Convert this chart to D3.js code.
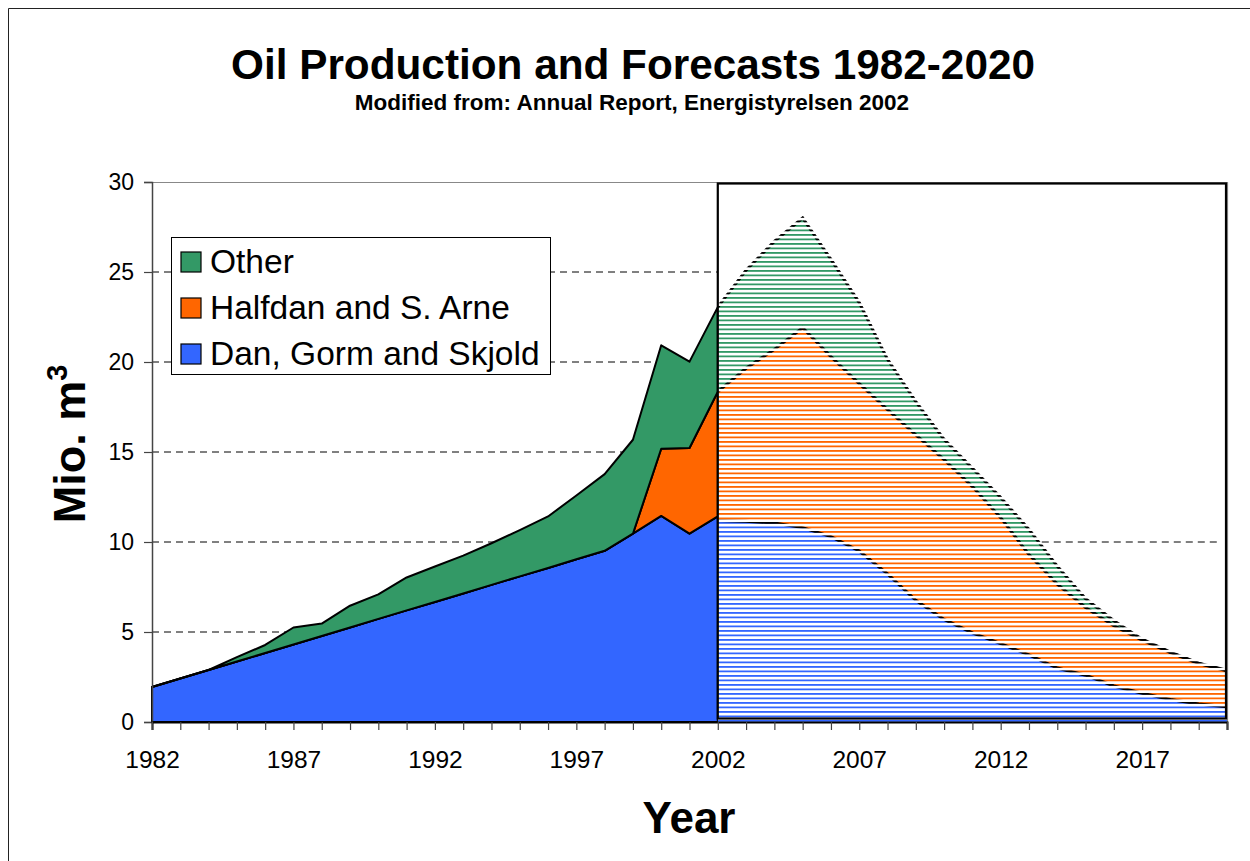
<!DOCTYPE html>
<html>
<head>
<meta charset="utf-8">
<script src="https://cdn.jsdelivr.net/npm/d3@7/dist/d3.min.js"></script>
<style>
  html, body { margin: 0; padding: 0; background: #fff; }
  svg { display: block; font-family: Arial, "Liberation Sans", sans-serif; }
</style>
</head>
<body>
<svg id="chart" width="1250" height="861"></svg>
<script>
// Recorded production 1982-2002 (million m3 per year)
const histYears   = [1982,1983,1984,1985,1986,1987,1988,1989,1990,1991,1992,1993,1994,1995,1996,1997,1998,1999,2000,2001,2002];
const histDan     = [1.94,2.42,2.89,3.36,3.83,4.31,4.78,5.25,5.73,6.20,6.67,7.14,7.62,8.09,8.56,9.04,9.51,10.46,11.45,10.46,11.42];
const histHalfdan = [0,0,0,0,0,0,0,0,0,0,0,0,0,0,0,0,0,0,3.73,4.76,6.93];
const histOther   = [0,0,0,0.24,0.45,0.94,0.69,1.21,1.36,1.83,1.97,2.10,2.31,2.57,2.86,3.54,4.26,5.22,5.75,4.80,4.70];

// Forecast 2002-2020 (million m3 per year)
const fcYears   = [2002,2003,2004,2005,2006,2007,2008,2009,2010,2011,2012,2013,2014,2015,2016,2017,2018,2019,2020];
const fcDan     = [11.20,11.15,11.05,10.80,10.30,9.50,8.23,6.76,5.70,4.95,4.35,3.73,3.00,2.60,2.00,1.60,1.25,1.00,0.85];
const fcHalfdan = [7.15,8.50,9.65,11.10,10.00,9.30,9.13,9.19,8.88,8.13,7.00,5.57,4.66,3.76,3.35,2.95,2.60,2.25,2.00];
const fcOther   = [4.70,5.45,6.00,6.10,5.40,4.50,2.79,1.85,1.12,1.02,1.12,1.40,1.00,0.49,0.28,0.05,0.03,0.02,0.02];

const seriesKeys   = ["dan", "halfdan", "other"];
const seriesLabels = ["Dan, Gorm and Skjold", "Halfdan and S. Arne", "Other"];
const seriesColors = ["#3366FF", "#FF6600", "#339966"];

const yTickValues = [0, 5, 10, 15, 20, 25, 30];
const xLabelYears = [1982, 1987, 1992, 1997, 2002, 2007, 2012, 2017];

const svg = d3.select("#chart");

// Outer chart border
svg.append("path")
  .attr("d", "M8.5,861 V8.5 H1250")
  .attr("fill", "none").attr("stroke", "#222").attr("stroke-width", 1);

const x = d3.scaleLinear().domain([1982, 2020]).range([152, 1227]);
const y = d3.scaleLinear().domain([0, 30]).range([722, 182]);

// Hatch patterns for the forecast
const defs = svg.append("defs");
const hatchStep = 4.5;
function hatch(id, color) {
  const p = defs.append("pattern")
    .attr("id", id)
    .attr("patternUnits", "userSpaceOnUse")
    .attr("width", 10).attr("height", hatchStep);
  p.append("rect")
    .attr("x", 0).attr("y", 0).attr("width", 10).attr("height", 1.7)
    .attr("fill", color)
    .attr("shape-rendering", "crispEdges");
}
seriesKeys.forEach((k, i) => hatch("hatch-" + k, seriesColors[i]));
hatch("hatch-black", "#000");

defs.append("clipPath").attr("id", "fc-clip")
  .append("rect")
  .attr("x", x(2002)).attr("y", y(30))
  .attr("width", x(2020) - x(2002)).attr("height", y(0) - y(30));

// Stacked tables built from the arrays
const histTable = histYears.map((yr, i) => ({ year: yr, dan: histDan[i], halfdan: histHalfdan[i], other: histOther[i] }));
const fcTable   = fcYears.map((yr, i)   => ({ year: yr, dan: fcDan[i],   halfdan: fcHalfdan[i],   other: fcOther[i] }));
const stack = d3.stack().keys(seriesKeys);
const histStack = stack(histTable);
const fcStack = stack(fcTable);

const area = d3.area()
  .x(d => x(d.data.year))
  .y0(d => y(d[0]))
  .y1(d => y(d[1]));
const topLine = d3.line()
  .x(d => x(d.data.year))
  .y(d => y(d[1]));

// Dashed gridlines
const grid = svg.append("g").attr("class", "grid");
yTickValues.filter(v => v > 0 && v < 30).forEach(v => {
  grid.append("line")
    .attr("x1", x(1982)).attr("x2", x(2002))
    .attr("y1", y(v)).attr("y2", y(v))
    .attr("stroke", "#000").attr("stroke-width", 1)
    .attr("stroke-dasharray", "7,5");
});
grid.append("line")
  .attr("x1", x(2002)).attr("x2", x(2020) - 6)
  .attr("y1", y(10)).attr("y2", y(10))
  .attr("stroke", "#000").attr("stroke-width", 1)
  .attr("stroke-dasharray", "7,5");

// Recorded production: solid stacked areas
svg.append("g").selectAll("path")
  .data(histStack)
  .join("path")
  .attr("d", area)
  .attr("fill", (d, i) => seriesColors[i])
  .attr("stroke", "#000")
  .attr("stroke-width", 2)
  .attr("stroke-linejoin", "round");

// Forecast: hatched stacked areas
const fc = svg.append("g").attr("clip-path", "url(#fc-clip)");
fc.append("path")
  .datum(fcStack[fcStack.length - 1])
  .attr("d", d3.area().x(d => x(d.data.year)).y0(y(0)).y1(d => y(d[1])))
  .attr("fill", "#fff");
fc.selectAll("path.fc-area")
  .data(fcStack)
  .join("path")
  .attr("class", "fc-area")
  .attr("d", area)
  .attr("fill", d => "url(#hatch-" + d.key + ")");
fc.selectAll("path.fc-edge")
  .data(fcStack)
  .join("path")
  .attr("class", "fc-edge")
  .attr("d", topLine)
  .attr("fill", "none")
  .attr("stroke", "url(#hatch-black)")
  .attr("stroke-width", 3);

// Plot area border (grey)
svg.append("path")
  .attr("d", `M${x(1982)},${y(30) + 0.5} H${x(2020) + 0.5} V${y(0)}`)
  .attr("fill", "none").attr("stroke", "#888").attr("stroke-width", 1.2);

// Forecast frame
svg.append("rect")
  .attr("x", x(2002)).attr("y", y(30) + 1.5)
  .attr("width", x(2020) - x(2002) - 1).attr("height", y(0) - y(30) - 5)
  .attr("fill", "none").attr("stroke", "#000").attr("stroke-width", 2.2);

// Y axis
const yAxis = svg.append("g")
  .attr("transform", `translate(${x(1982)},0)`)
  .call(d3.axisLeft(y).tickValues(yTickValues).tickSize(8).tickPadding(10).tickFormat(d3.format("d")));
yAxis.select(".domain").attr("stroke", "#444").attr("stroke-width", 1.5);
yAxis.selectAll(".tick line").attr("stroke", "#444").attr("stroke-width", 1.2);
yAxis.selectAll("text")
  .attr("font-size", 23).attr("fill", "#000")
  .attr("font-family", "Arial, 'Liberation Sans', sans-serif");

// X axis: a tick every year, labels every five years
const xAxis = svg.append("g")
  .attr("transform", `translate(0,${y(0)})`)
  .call(d3.axisBottom(x).tickValues(d3.range(1982, 2021)).tickSize(8).tickPadding(21)
    .tickFormat(d => xLabelYears.includes(d) ? String(d) : ""));
xAxis.select(".domain").attr("stroke", "#000").attr("stroke-width", 2);
xAxis.selectAll(".tick line").attr("stroke", "#444").attr("stroke-width", 1.2);
xAxis.selectAll("text")
  .attr("font-size", 24.5).attr("fill", "#000")
  .attr("font-family", "Arial, 'Liberation Sans', sans-serif");

// Titles
svg.append("text")
  .attr("x", 633).attr("y", 79)
  .attr("text-anchor", "middle")
  .attr("font-size", 42.3).attr("font-weight", "bold")
  .text("Oil Production and Forecasts 1982-2020");
svg.append("text")
  .attr("x", 632).attr("y", 110)
  .attr("text-anchor", "middle")
  .attr("font-size", 22.5).attr("font-weight", "bold")
  .text("Modified from: Annual Report, Energistyrelsen 2002");

// Axis titles
const yTitle = svg.append("text")
  .attr("transform", "translate(85,444) rotate(-90)")
  .attr("text-anchor", "middle")
  .attr("font-size", 45).attr("font-weight", "bold");
yTitle.append("tspan").text("Mio. m");
yTitle.append("tspan").attr("font-size", 29).attr("dy", -18).text("3");

svg.append("text")
  .attr("x", 689).attr("y", 833)
  .attr("text-anchor", "middle")
  .attr("font-size", 44).attr("font-weight", "bold")
  .text("Year");

// Legend
const legend = svg.append("g").attr("transform", "translate(171,237)");
legend.append("rect")
  .attr("x", 0.5).attr("y", 0.5).attr("width", 379).attr("height", 137)
  .attr("fill", "#fff").attr("stroke", "#000").attr("stroke-width", 1);
const legendOrder = [2, 1, 0];
legendOrder.forEach((si, row) => {
  const g = legend.append("g").attr("transform", `translate(0,${15 + row * 46})`);
  g.append("rect")
    .attr("x", 10).attr("y", 0).attr("width", 20).attr("height", 20)
    .attr("fill", seriesColors[si]).attr("stroke", "#000").attr("stroke-width", 1.2);
  g.append("text")
    .attr("x", 39).attr("y", 21)
    .attr("font-size", 33.5)
    .text(seriesLabels[si]);
});
</script>
</body>
</html>
